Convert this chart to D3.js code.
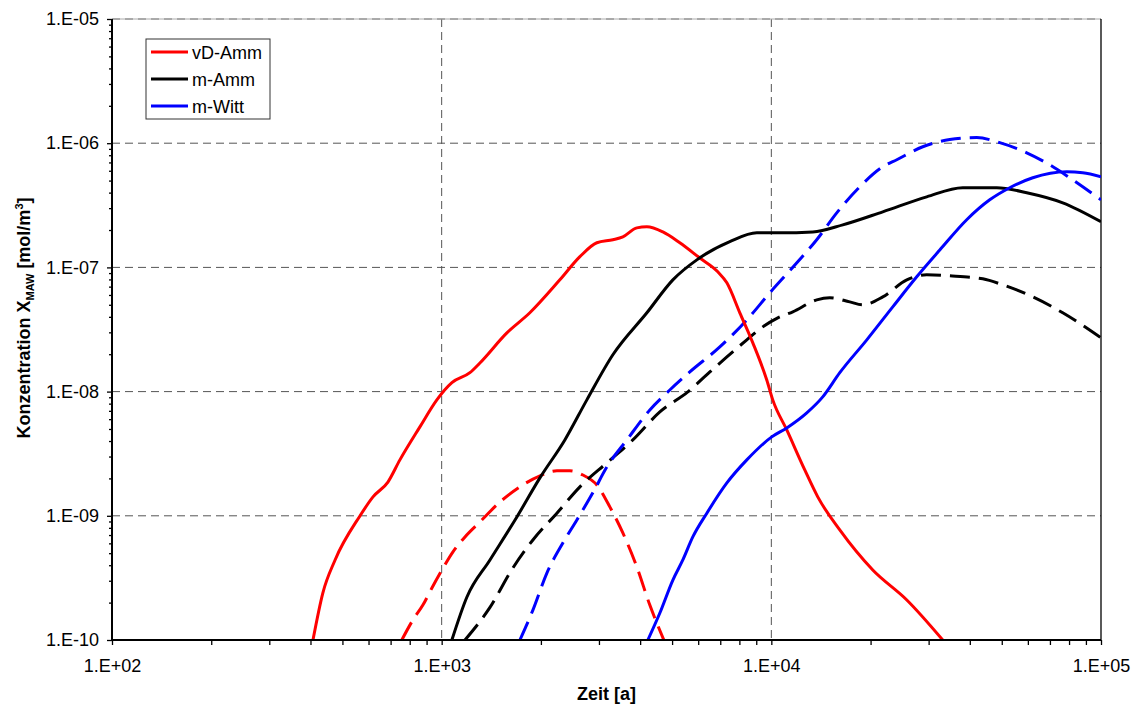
<!DOCTYPE html>
<html><head><meta charset="utf-8">
<script src="https://cdn.jsdelivr.net/npm/d3@7"></script>
<style>
html,body{margin:0;padding:0;background:#fff;}
svg{display:block;font-family:"Liberation Sans",Arial,sans-serif;}
</style></head>
<body>
<svg id="chart" width="1133" height="706"></svg>
<script>
// ---- data (time [a], concentration [mol/m3]) ----
const vdAmmSolid = [[407,1e-10],[436,2.39e-10],[475,4.41e-10],[565,9.97e-10],[619,1.42e-9],[687,1.87e-9],[747,2.82e-9],[859,5.2e-9],[967,8.58e-9],[1074,1.18e-8],[1218,1.42e-8],[1306,1.7e-8],[1577,2.97e-8],[1851,4.31e-8],[2283,7.94e-8],[2626,1.22e-7],[2956,1.58e-7],[3306,1.67e-7],[3545,1.76e-7],[3909,2.08e-7],[4192,2.12e-7],[4688,1.93e-7],[5277,1.58e-7],[6069,1.19e-7],[6880,9.21e-8],[7330,7.51e-8],[8025,4.31e-8],[8787,2.47e-8],[9687,1.24e-8],[10100,8.58e-9],[11140,4.91e-9],[12630,2.34e-9],[13830,1.42e-9],[16130,7.69e-10],[20310,3.66e-10],[25760,2.1e-10],[33110,1e-10]];
const vdAmmDashed = [[757,1e-10],[818,1.45e-10],[877,1.91e-10],[934,2.62e-10],[1002,3.66e-10],[1082,5.12e-10],[1177,6.76e-10],[1306,8.92e-10],[1502,1.29e-9],[1727,1.71e-9],[1986,2.1e-9],[2236,2.3e-9],[2448,2.3e-9],[2681,2.13e-9],[2956,1.77e-9],[3237,1.18e-9],[3545,7.28e-10],[3909,3.87e-10],[4280,1.91e-10],[4720,1e-10]];
const mAmmSolid = [[1074,1e-10],[1193,2.22e-10],[1401,4.41e-10],[1691,9.79e-10],[1986,2.02e-9],[2364,4.08e-9],[2757,8.58e-9],[3306,1.98e-8],[4192,4.31e-8],[5027,7.94e-8],[5943,1.15e-7],[7482,1.61e-7],[9035,1.9e-7],[10610,1.9e-7],[13360,1.93e-7],[16470,2.2e-7],[21780,2.8e-7],[29600,3.7e-7],[38070,4.38e-7],[48280,4.38e-7],[59530,3.99e-7],[76560,3.31e-7],[100000,2.33e-7]];
const mAmmDashed = [[1177,1e-10],[1401,1.83e-10],[1644,3.8e-10],[1891,6.39e-10],[2236,1.05e-9],[2626,1.71e-9],[3170,2.67e-9],[3801,4.08e-9],[4590,6.86e-9],[5580,9.95e-9],[6509,1.44e-8],[7330,1.9e-8],[8425,2.61e-8],[9421,3.32e-8],[10460,3.92e-8],[11620,4.39e-8],[13730,5.48e-8],[15040,5.69e-8],[17290,5.28e-8],[18940,5.0e-8],[21780,5.79e-8],[25760,7.94e-8],[29600,8.71e-8],[34770,8.55e-8],[43780,8.09e-8],[50350,7.24e-8],[62090,5.79e-8],[76560,4.31e-8],[100000,2.71e-8]];
const mWittSolid = [[4221,1e-10],[4590,1.65e-10],[5027,3.04e-10],[5389,4.41e-10],[5778,6.76e-10],[6373,1.05e-9],[7330,1.84e-9],[8425,2.82e-9],[10030,4.32e-9],[11140,5.1e-9],[12810,6.74e-9],[14320,9.07e-9],[16130,1.42e-8],[19480,2.61e-8],[23350,4.81e-8],[27610,8.4e-8],[32430,1.38e-7],[39140,2.42e-7],[45970,3.5e-7],[52870,4.38e-7],[62090,5.27e-7],[78720,5.89e-7],[88030,5.78e-7],[100000,5.37e-7]];
const mWittDashed = [[1727,1e-10],[1891,1.74e-10],[2085,3.46e-10],[2331,6.04e-10],[2571,9.26e-10],[2874,1.53e-9],[3170,2.47e-9],[3645,4.08e-9],[4280,7.12e-9],[4921,1.03e-8],[5659,1.44e-8],[6978,2.29e-8],[8425,3.78e-8],[9893,6.24e-8],[11950,1.09e-7],[13730,1.67e-7],[15790,2.75e-7],[18550,4.46e-7],[21780,6.46e-7],[24020,7.36e-7],[28800,9.36e-7],[34770,1.07e-6],[41980,1.11e-6],[49290,1.01e-6],[59530,8.37e-7],[69890,6.7e-7],[80370,5.27e-7],[100000,3.5e-7]];
const legendNames = ["vD-Amm","m-Amm","m-Witt"];
const seriesColors = ["#ff0000","#000000","#0000ff"];
const xMajorTicks = [1e2,1e3,1e4,1e5];
const yMajorTicks = [1e-10,1e-9,1e-8,1e-7,1e-6,1e-5];

const svg = d3.select("#chart");
const L=112, R=1101, T=19, B=640;
const x = d3.scaleLog().domain([1e2,1e5]).range([L,R]);
const y = d3.scaleLog().domain([1e-10,1e-5]).range([B,T]);

function minors(majors){const out=[];for(let i=0;i<majors.length-1;i++)for(let k=2;k<=9;k++)out.push(majors[i]*k);return out;}
function sci(v){const e=Math.round(Math.log10(v));return "1.E"+(e>=0?"+":"-")+String(Math.abs(e)).padStart(2,"0");}

// gridlines
const grid = svg.append("g").attr("stroke","#555").attr("stroke-width",1).attr("stroke-dasharray","8,5");
svg.append("line").attr("x1",L).attr("x2",R).attr("y1",T).attr("y2",T).attr("stroke","#aaa");
xMajorTicks.slice(1,-1).forEach(v=>grid.append("line").attr("x1",x(v)).attr("x2",x(v)).attr("y1",T).attr("y2",B));
yMajorTicks.slice(1).forEach(v=>grid.append("line").attr("x1",L).attr("x2",R).attr("y1",y(v)).attr("y2",y(v)));
svg.append("line").attr("x1",R).attr("x2",R).attr("y1",T).attr("y2",B).attr("stroke","#000").attr("stroke-width",1.3);

// curves
const line = d3.line().x(d=>x(d[0])).y(d=>y(d[1])).curve(d3.curveMonotoneX);
const curves = [
  [vdAmmDashed,0,true],[mAmmDashed,1,true],[mWittDashed,2,true],
  [vdAmmSolid,0,false],[mAmmSolid,1,false],[mWittSolid,2,false]
];
svg.append("clipPath").attr("id","clip").append("rect").attr("x",L).attr("y",T-2).attr("width",R-L).attr("height",B-T+2);
const cg = svg.append("g").attr("clip-path","url(#clip)");
curves.forEach(([data,ci,dashed])=>{
  cg.append("path").attr("d",line(data)).attr("fill","none")
    .attr("stroke",seriesColors[ci]).attr("stroke-width",3)
    .attr("stroke-dasharray",dashed?"20,9":null).attr("stroke-linejoin","round");
});

// axes
const xAxisG = svg.append("g").attr("transform",`translate(0,${B})`);
xAxisG.call(d3.axisBottom(x).tickValues(minors(xMajorTicks)).tickSize(5).tickFormat(""));
const xMaj = svg.append("g").attr("transform",`translate(0,${B})`)
  .call(d3.axisBottom(x).tickValues(xMajorTicks).tickSize(5).tickPadding(14).tickFormat(sci));
const yAxisG = svg.append("g").attr("transform",`translate(${L},0)`);
yAxisG.call(d3.axisLeft(y).tickValues(minors(yMajorTicks)).tickSize(3).tickFormat(""));
const yMaj = svg.append("g").attr("transform",`translate(${L},0)`)
  .call(d3.axisLeft(y).tickValues(yMajorTicks).tickSize(5).tickPadding(8).tickFormat(sci));
svg.selectAll(".domain").attr("stroke","#000").attr("stroke-width",2);
svg.selectAll(".tick line").attr("stroke","#000").attr("stroke-width",1.3);
svg.selectAll(".tick text").attr("font-size",18).attr("font-family","Liberation Sans, Arial, sans-serif").attr("fill","#000");
xAxisG.select(".domain").remove(); yAxisG.select(".domain").remove();
xMaj.select(".domain").attr("d",`M${L},0H${R}`);
yMaj.select(".domain").attr("d",`M0,${B}V${T}`);

// axis titles
svg.append("text").attr("x",(L+R)/2).attr("y",700).attr("text-anchor","middle")
  .attr("font-size",18).attr("font-weight","bold").text("Zeit [a]");
const yt = svg.append("text").attr("transform","translate(30,318) rotate(-90)").attr("text-anchor","middle")
  .attr("font-size",18).attr("font-weight","bold");
yt.append("tspan").text("Konzentration X");
yt.append("tspan").attr("font-size",11).attr("dy",4).text("MAW");
yt.append("tspan").attr("dy",-4).text(" [mol/m");
yt.append("tspan").attr("font-size",11).attr("dy",-7).text("3");
yt.append("tspan").attr("dy",7).text("]");

// legend
const lg = svg.append("g");
lg.append("rect").attr("x",146).attr("y",39).attr("width",124).attr("height",80).attr("fill","#fff").attr("stroke","#333").attr("stroke-width",1);
legendNames.forEach((n,i)=>{
  const ly = 52 + i*27;
  lg.append("line").attr("x1",151).attr("x2",188).attr("y1",ly).attr("y2",ly).attr("stroke",seriesColors[i]).attr("stroke-width",3);
  lg.append("text").attr("x",192).attr("y",ly+6.5).attr("font-size",18).text(n);
});
</script>
</body></html>
